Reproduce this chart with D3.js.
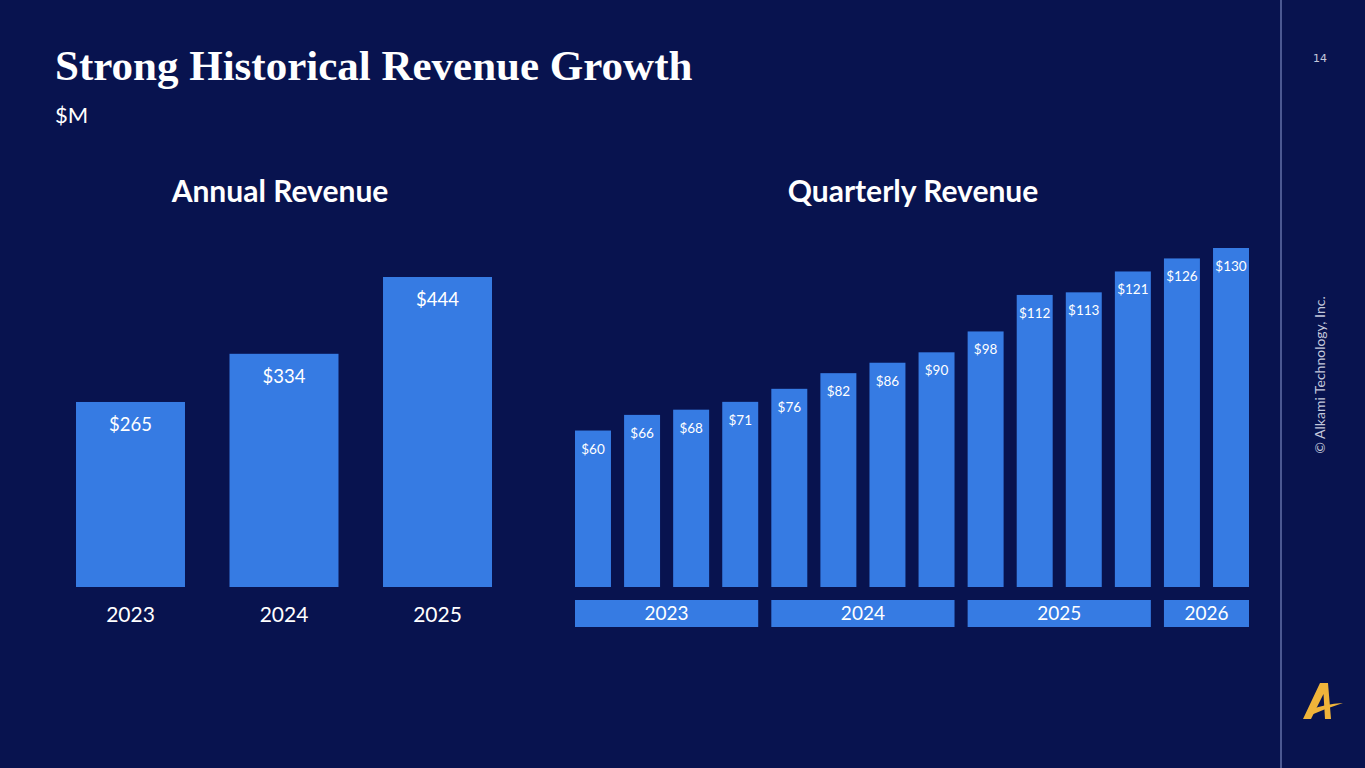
<!DOCTYPE html>
<html>
<head>
<meta charset="utf-8">
<script src="https://cdn.jsdelivr.net/npm/d3@7"></script>
<style>
  body { margin: 0; background: #08134f; }
  svg { display: block; }
</style>
</head>
<body>
<svg id="slide"></svg>
<script>
const W = 1365, H = 768;

// annual data
const annualYears = ["2023", "2024", "2025"];
const annualValues = [265, 334, 444];

// quarterly data
const quarterKeys = ["2023Q1", "2023Q2", "2023Q3", "2023Q4",
                     "2024Q1", "2024Q2", "2024Q3", "2024Q4",
                     "2025Q1", "2025Q2", "2025Q3", "2025Q4",
                     "2026Q1", "2026Q2"];
const quarterValues = [60, 66, 68, 71, 76, 82, 86, 90, 98, 112, 113, 121, 126, 130];
const yearGroups = ["2023", "2024", "2025", "2026"];

const barColor = "#367be3";
const bg = "#08134f";
const sans = "Lato, 'Open Sans', sans-serif";

const svg = d3.select("#slide")
  .attr("width", W)
  .attr("height", H);

svg.append("rect")
  .attr("width", W)
  .attr("height", H)
  .attr("fill", bg);

// right side divider
svg.append("line")
  .attr("x1", 1281).attr("x2", 1281)
  .attr("y1", 0).attr("y2", H)
  .attr("stroke", "#4b5892")
  .attr("stroke-width", 2);

// title + unit
svg.append("text")
  .attr("x", 55)
  .attr("y", 80)
  .attr("font-family", "'Liberation Serif', serif")
  .attr("font-weight", "bold")
  .attr("font-size", 43)
  .attr("fill", "white")
  .text("Strong Historical Revenue Growth");

svg.append("text")
  .attr("x", 55)
  .attr("y", 123)
  .attr("font-family", sans)
  .attr("font-size", 22)
  .attr("fill", "white")
  .text("$M");

// page number and copyright
svg.append("text")
  .attr("x", 1320)
  .attr("y", 62)
  .attr("text-anchor", "middle")
  .attr("font-family", "'DejaVu Sans', sans-serif")
  .attr("font-size", 11)
  .attr("fill", "#c3c8dc")
  .text("14");

svg.append("text")
  .attr("transform", "translate(1325,375) rotate(-90)")
  .attr("text-anchor", "middle")
  .attr("font-family", sans)
  .attr("font-size", 14)
  .attr("fill", "#c3c8dc")
  .text("© Alkami Technology, Inc.");

// logo
const logo = svg.append("g").attr("transform", "translate(1303,683)");
logo.append("path")
  .attr("d", "M0,36 L17,0 L25,0 L28,36 L22,36 L20.5,11 L8,36 Z")
  .attr("fill", "#f0b43a");
logo.append("path")
  .attr("d", "M6,27 Q22,21 40,20 Q24,25 8,32 Z")
  .attr("fill", "#f0b43a");

// ---------- Annual chart ----------
const xA = d3.scaleBand()
  .domain(annualYears)
  .range([76, 492])
  .paddingInner(0.29)
  .paddingOuter(0);

const yA = d3.scaleLinear()
  .domain([0, 444])
  .range([587, 277]);

const annual = svg.append("g");

annual.append("text")
  .attr("x", 280)
  .attr("y", 202)
  .attr("text-anchor", "middle")
  .attr("font-family", sans)
  .attr("font-weight", "bold")
  .attr("font-size", 30)
  .attr("fill", "white")
  .text("Annual Revenue");

annual.selectAll(".bar")
  .data(annualValues)
  .enter()
  .append("rect")
  .attr("x", (d, i) => xA(annualYears[i]))
  .attr("y", d => yA(d))
  .attr("width", xA.bandwidth())
  .attr("height", d => yA(0) - yA(d))
  .attr("fill", barColor);

annual.selectAll(".val")
  .data(annualValues)
  .enter()
  .append("text")
  .attr("x", (d, i) => xA(annualYears[i]) + xA.bandwidth() / 2)
  .attr("y", d => yA(d) + 29)
  .attr("text-anchor", "middle")
  .attr("font-family", sans)
  .attr("font-size", 18.5)
  .attr("fill", "white")
  .text(d => "$" + d);

// axis labels (no line, no ticks)
const axA = annual.append("g")
  .attr("transform", "translate(0,587)")
  .call(d3.axisBottom(xA).tickSize(0).tickPadding(20));
axA.select(".domain").remove();
axA.selectAll("text")
  .attr("font-family", sans)
  .attr("font-size", 21)
  .attr("fill", "white");

// ---------- Quarterly chart ----------
const xQ = d3.scaleBand()
  .domain(quarterKeys)
  .range([575, 1249])
  .paddingInner(0.267)
  .paddingOuter(0);

const yQ = d3.scaleLinear()
  .domain([0, 130])
  .range([587, 248]);

const quarterly = svg.append("g");

quarterly.append("text")
  .attr("x", 913)
  .attr("y", 202)
  .attr("text-anchor", "middle")
  .attr("font-family", sans)
  .attr("font-weight", "bold")
  .attr("font-size", 30)
  .attr("fill", "white")
  .text("Quarterly Revenue");

quarterly.selectAll(".bar")
  .data(quarterValues)
  .enter()
  .append("rect")
  .attr("x", (d, i) => xQ(quarterKeys[i]))
  .attr("y", d => yQ(d))
  .attr("width", xQ.bandwidth())
  .attr("height", d => yQ(0) - yQ(d))
  .attr("fill", barColor);

quarterly.selectAll(".val")
  .data(quarterValues)
  .enter()
  .append("text")
  .attr("x", (d, i) => xQ(quarterKeys[i]) + xQ.bandwidth() / 2)
  .attr("y", d => yQ(d) + 23)
  .attr("text-anchor", "middle")
  .attr("font-family", sans)
  .attr("font-size", 13.5)
  .attr("fill", "white")
  .text(d => "$" + d);

// year group boxes under the quarters
yearGroups.forEach(year => {
  const keys = quarterKeys.filter(k => k.startsWith(year));
  const x0 = xQ(keys[0]);
  const x1 = xQ(keys[keys.length - 1]) + xQ.bandwidth();

  quarterly.append("rect")
    .attr("x", x0)
    .attr("y", 600)
    .attr("width", x1 - x0)
    .attr("height", 27)
    .attr("fill", barColor);

  quarterly.append("text")
    .attr("x", (x0 + x1) / 2)
    .attr("y", 620)
    .attr("text-anchor", "middle")
    .attr("font-family", sans)
    .attr("font-size", 19)
    .attr("fill", "white")
    .text(year);
});
</script>
</body>
</html>
